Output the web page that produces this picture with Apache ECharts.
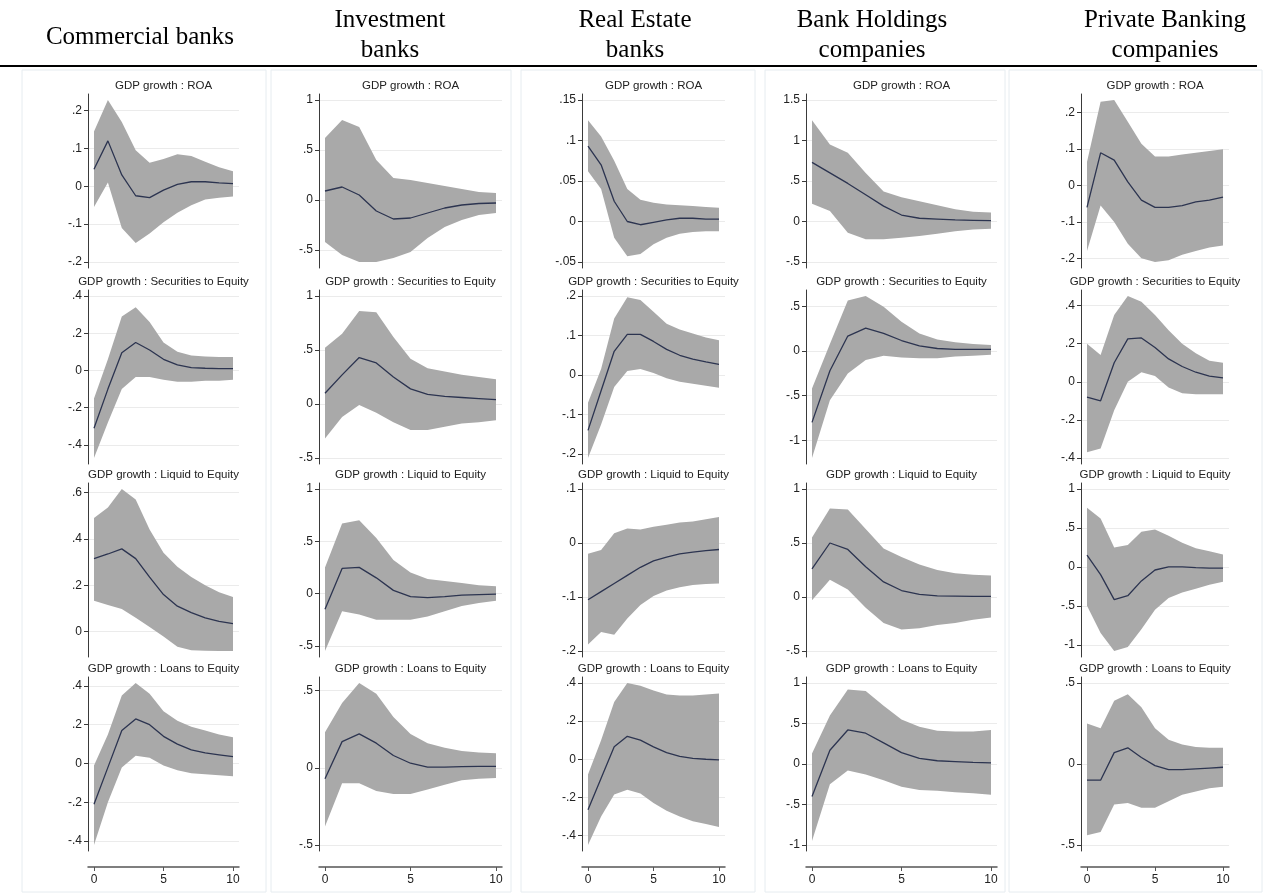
<!DOCTYPE html>
<html>
<head>
<meta charset="utf-8">
<title>GDP growth impulse responses by bank type</title>
<script src="https://cdn.jsdelivr.net/npm/echarts@6.0.0/dist/echarts.min.js"></script>
<style>
  html, body { margin: 0; padding: 0; background: #fff; }
  #main { width: 1264px; height: 894px; }
</style>
</head>
<body>
<div id="main"></div>
<script>
// horizon steps and x ticks
var steps = [0, 1, 2, 3, 4, 5, 6, 7, 8, 9, 10];
var xTicks = [0, 5, 10];

var bankTypes = ["Commercial banks", "Investment\nbanks", "Real Estate\nbanks", "Bank Holdings\ncompanies", "Private Banking\ncompanies"];
var responses = ["GDP growth : ROA", "GDP growth : Securities to Equity", "GDP growth : Liquid to Equity", "GDP growth : Loans to Equity"];

// Commercial banks
var comRoaIrf = [0.045, 0.12, 0.03, -0.025, -0.03, -0.01, 0.005, 0.012, 0.012, 0.009, 0.007];
var comRoaLo = [-0.055, 0.01, -0.11, -0.15, -0.125, -0.095, -0.07, -0.05, -0.035, -0.03, -0.027];
var comRoaHi = [0.145, 0.228, 0.17, 0.095, 0.062, 0.072, 0.085, 0.08, 0.065, 0.05, 0.04];
var comRoaTicks = [-0.2, -0.1, 0, 0.1, 0.2];

var comSecIrf = [-0.31, -0.1, 0.095, 0.15, 0.11, 0.06, 0.03, 0.015, 0.012, 0.01, 0.01];
var comSecLo = [-0.47, -0.28, -0.1, -0.035, -0.035, -0.05, -0.06, -0.06, -0.055, -0.055, -0.05];
var comSecHi = [-0.15, 0.06, 0.29, 0.34, 0.26, 0.15, 0.1, 0.08, 0.075, 0.073, 0.072];
var comSecTicks = [-0.4, -0.2, 0, 0.2, 0.4];

var comLiqIrf = [0.315, 0.335, 0.357, 0.315, 0.235, 0.16, 0.11, 0.082, 0.06, 0.045, 0.035];
var comLiqLo = [0.133, 0.115, 0.098, 0.06, 0.02, -0.02, -0.065, -0.08, -0.082, -0.083, -0.083];
var comLiqHi = [0.49, 0.535, 0.615, 0.57, 0.44, 0.34, 0.28, 0.236, 0.2, 0.17, 0.15];
var comLiqTicks = [0, 0.2, 0.4, 0.6];

var comLoanIrf = [-0.21, -0.02, 0.17, 0.23, 0.2, 0.14, 0.1, 0.07, 0.055, 0.045, 0.035];
var comLoanLo = [-0.42, -0.2, -0.02, 0.04, 0.03, -0.01, -0.035, -0.05, -0.055, -0.06, -0.065];
var comLoanHi = [-0.01, 0.15, 0.35, 0.415, 0.36, 0.27, 0.22, 0.19, 0.17, 0.15, 0.135];
var comLoanTicks = [-0.4, -0.2, 0, 0.2, 0.4];

// Investment banks
var invRoaIrf = [0.09, 0.13, 0.05, -0.11, -0.19, -0.18, -0.13, -0.08, -0.05, -0.035, -0.03];
var invRoaLo = [-0.42, -0.55, -0.62, -0.62, -0.58, -0.52, -0.38, -0.27, -0.2, -0.15, -0.13];
var invRoaHi = [0.62, 0.8, 0.73, 0.4, 0.22, 0.2, 0.17, 0.14, 0.11, 0.08, 0.07];
var invRoaTicks = [-0.5, 0, 0.5, 1];

var invSecIrf = [0.1, 0.27, 0.43, 0.38, 0.25, 0.14, 0.09, 0.07, 0.06, 0.05, 0.04];
var invSecLo = [-0.32, -0.12, -0.01, -0.08, -0.17, -0.24, -0.24, -0.21, -0.18, -0.17, -0.15];
var invSecHi = [0.52, 0.65, 0.86, 0.85, 0.62, 0.42, 0.33, 0.3, 0.27, 0.25, 0.23];
var invSecTicks = [-0.5, 0, 0.5, 1];

var invLiqIrf = [-0.15, 0.24, 0.25, 0.15, 0.03, -0.03, -0.04, -0.03, -0.015, -0.01, -0.005];
var invLiqLo = [-0.55, -0.17, -0.2, -0.25, -0.25, -0.25, -0.22, -0.17, -0.12, -0.09, -0.07];
var invLiqHi = [0.25, 0.67, 0.7, 0.53, 0.32, 0.2, 0.14, 0.12, 0.1, 0.08, 0.07];
var invLiqTicks = [-0.5, 0, 0.5, 1];

var invLoanIrf = [-0.07, 0.17, 0.22, 0.16, 0.08, 0.03, 0.005, 0.005, 0.008, 0.01, 0.01];
var invLoanLo = [-0.38, -0.1, -0.1, -0.15, -0.17, -0.17, -0.14, -0.11, -0.08, -0.07, -0.065];
var invLoanHi = [0.23, 0.42, 0.55, 0.48, 0.33, 0.22, 0.16, 0.13, 0.11, 0.1, 0.095];
var invLoanTicks = [-0.5, 0, 0.5];

// Real Estate banks
var reRoaIrf = [0.093, 0.07, 0.025, 0, -0.004, -0.001, 0.002, 0.004, 0.004, 0.003, 0.003];
var reRoaLo = [0.062, 0.04, -0.02, -0.043, -0.04, -0.028, -0.02, -0.015, -0.013, -0.012, -0.012];
var reRoaHi = [0.125, 0.105, 0.075, 0.04, 0.027, 0.023, 0.021, 0.02, 0.019, 0.018, 0.017];
var reRoaTicks = [-0.05, 0, 0.05, 0.1, 0.15];

var reSecIrf = [-0.14, -0.04, 0.06, 0.103, 0.103, 0.085, 0.065, 0.05, 0.04, 0.033, 0.027];
var reSecLo = [-0.21, -0.125, -0.03, 0.01, 0.015, 0.005, -0.008, -0.017, -0.022, -0.027, -0.032];
var reSecHi = [-0.07, 0.015, 0.143, 0.197, 0.19, 0.16, 0.13, 0.115, 0.105, 0.095, 0.088];
var reSecTicks = [-0.2, -0.1, 0, 0.1, 0.2];

var reLiqIrf = [-0.105, -0.09, -0.075, -0.06, -0.045, -0.033, -0.026, -0.02, -0.017, -0.014, -0.012];
var reLiqLo = [-0.188, -0.165, -0.17, -0.14, -0.115, -0.098, -0.088, -0.082, -0.078, -0.076, -0.075];
var reLiqHi = [-0.02, -0.013, 0.018, 0.027, 0.025, 0.03, 0.034, 0.038, 0.04, 0.044, 0.048];
var reLiqTicks = [-0.2, -0.1, 0, 0.1];

var reLoanIrf = [-0.265, -0.1, 0.065, 0.12, 0.1, 0.065, 0.035, 0.015, 0.005, 0, -0.003];
var reLoanLo = [-0.45, -0.3, -0.185, -0.16, -0.18, -0.23, -0.27, -0.3, -0.325, -0.34, -0.355];
var reLoanHi = [-0.08, 0.1, 0.3, 0.4, 0.385, 0.36, 0.34, 0.335, 0.335, 0.34, 0.345];
var reLoanTicks = [-0.4, -0.2, 0, 0.2, 0.4];

// Bank Holdings companies
var bhRoaIrf = [0.73, 0.6, 0.47, 0.33, 0.19, 0.08, 0.04, 0.03, 0.02, 0.015, 0.01];
var bhRoaLo = [0.22, 0.13, -0.14, -0.22, -0.22, -0.2, -0.18, -0.15, -0.12, -0.1, -0.09];
var bhRoaHi = [1.25, 0.95, 0.85, 0.6, 0.37, 0.3, 0.25, 0.2, 0.15, 0.12, 0.11];
var bhRoaTicks = [-0.5, 0, 0.5, 1, 1.5];

var bhSecIrf = [-0.8, -0.22, 0.17, 0.26, 0.2, 0.12, 0.06, 0.03, 0.02, 0.02, 0.02];
var bhSecLo = [-1.2, -0.55, -0.25, -0.1, -0.05, -0.07, -0.08, -0.08, -0.06, -0.05, -0.04];
var bhSecHi = [-0.42, 0.08, 0.57, 0.62, 0.5, 0.33, 0.2, 0.13, 0.1, 0.08, 0.07];
var bhSecTicks = [-1, -0.5, 0, 0.5];

var bhLiqIrf = [0.26, 0.5, 0.44, 0.28, 0.14, 0.06, 0.025, 0.01, 0.008, 0.006, 0.005];
var bhLiqLo = [-0.03, 0.16, 0.07, -0.1, -0.24, -0.3, -0.29, -0.26, -0.24, -0.21, -0.19];
var bhLiqHi = [0.55, 0.82, 0.81, 0.63, 0.45, 0.37, 0.3, 0.25, 0.22, 0.205, 0.2];
var bhLiqTicks = [-0.5, 0, 0.5, 1];

var bhLoanIrf = [-0.4, 0.17, 0.42, 0.38, 0.26, 0.14, 0.07, 0.04, 0.03, 0.02, 0.015];
var bhLoanLo = [-0.95, -0.25, -0.08, -0.13, -0.2, -0.28, -0.32, -0.33, -0.35, -0.36, -0.38];
var bhLoanHi = [0.13, 0.6, 0.92, 0.9, 0.72, 0.55, 0.46, 0.41, 0.4, 0.4, 0.42];
var bhLoanTicks = [-1, -0.5, 0, 0.5, 1];

// Private Banking companies
var pbRoaIrf = [-0.06, 0.09, 0.07, 0.01, -0.04, -0.06, -0.06, -0.055, -0.045, -0.04, -0.032];
var pbRoaLo = [-0.18, -0.055, -0.1, -0.16, -0.2, -0.21, -0.205, -0.19, -0.18, -0.17, -0.165];
var pbRoaHi = [0.065, 0.23, 0.235, 0.175, 0.115, 0.08, 0.08, 0.085, 0.09, 0.095, 0.1];
var pbRoaTicks = [-0.2, -0.1, 0, 0.1, 0.2];

var pbSecIrf = [-0.08, -0.1, 0.1, 0.225, 0.23, 0.18, 0.12, 0.08, 0.05, 0.03, 0.02];
var pbSecLo = [-0.37, -0.35, -0.15, 0, 0.05, 0.03, -0.03, -0.06, -0.065, -0.065, -0.065];
var pbSecHi = [0.2, 0.14, 0.35, 0.45, 0.42, 0.35, 0.27, 0.2, 0.15, 0.11, 0.1];
var pbSecTicks = [-0.4, -0.2, 0, 0.2, 0.4];

var pbLiqIrf = [0.15, -0.1, -0.42, -0.37, -0.18, -0.04, 0, 0, -0.01, -0.015, -0.015];
var pbLiqLo = [-0.5, -0.85, -1.08, -1.03, -0.8, -0.55, -0.4, -0.33, -0.28, -0.23, -0.19];
var pbLiqHi = [0.76, 0.62, 0.25, 0.28, 0.45, 0.48, 0.4, 0.31, 0.24, 0.2, 0.16];
var pbLiqTicks = [-1, -0.5, 0, 0.5, 1];

var pbLoanIrf = [-0.1, -0.1, 0.07, 0.1, 0.04, -0.01, -0.035, -0.035, -0.03, -0.025, -0.02];
var pbLoanLo = [-0.44, -0.42, -0.25, -0.24, -0.27, -0.27, -0.23, -0.19, -0.17, -0.15, -0.14];
var pbLoanHi = [0.25, 0.22, 0.39, 0.43, 0.35, 0.22, 0.15, 0.12, 0.105, 0.1, 0.1];
var pbLoanTicks = [-0.5, 0, 0.5];

var panels = [
  [[comRoaIrf, comRoaLo, comRoaHi, comRoaTicks], [comSecIrf, comSecLo, comSecHi, comSecTicks], [comLiqIrf, comLiqLo, comLiqHi, comLiqTicks], [comLoanIrf, comLoanLo, comLoanHi, comLoanTicks]],
  [[invRoaIrf, invRoaLo, invRoaHi, invRoaTicks], [invSecIrf, invSecLo, invSecHi, invSecTicks], [invLiqIrf, invLiqLo, invLiqHi, invLiqTicks], [invLoanIrf, invLoanLo, invLoanHi, invLoanTicks]],
  [[reRoaIrf, reRoaLo, reRoaHi, reRoaTicks], [reSecIrf, reSecLo, reSecHi, reSecTicks], [reLiqIrf, reLiqLo, reLiqHi, reLiqTicks], [reLoanIrf, reLoanLo, reLoanHi, reLoanTicks]],
  [[bhRoaIrf, bhRoaLo, bhRoaHi, bhRoaTicks], [bhSecIrf, bhSecLo, bhSecHi, bhSecTicks], [bhLiqIrf, bhLiqLo, bhLiqHi, bhLiqTicks], [bhLoanIrf, bhLoanLo, bhLoanHi, bhLoanTicks]],
  [[pbRoaIrf, pbRoaLo, pbRoaHi, pbRoaTicks], [pbSecIrf, pbSecLo, pbSecHi, pbSecTicks], [pbLiqIrf, pbLiqLo, pbLiqHi, pbLiqTicks], [pbLoanIrf, pbLoanLo, pbLoanHi, pbLoanTicks]]
];

// layout (pixels)
var colAxisX = [88, 319, 582, 806, 1081];
var colRight = [239, 502, 725, 997, 1229];
var headerX = [140, 390, 635, 872, 1165];
var boxX = [[22, 266], [271, 511], [521, 755], [765, 1005], [1009, 1262]];
var rowTop = [100, 296, 489, 683];
var rowH = 162;
var pad = 6;

function stataLabel(v) {
  var s = String(+Number(v).toFixed(4));
  return s.replace(/^(-?)0\./, "$1.");
}
function pairs(ys) {
  return steps.map(function (x, i) { return [x, ys[i]]; });
}
// confidence band as one polygon: upper edge left to right, lower edge back
function bandRenderer(lo, hi) {
  return function (params, api) {
    if (params.dataIndex !== 0) return;
    var pts = [];
    for (var i = 0; i < steps.length; i++) pts.push(api.coord([steps[i], hi[i]]));
    for (var j = steps.length - 1; j >= 0; j--) pts.push(api.coord([steps[j], lo[j]]));
    return { type: "polygon", shape: { points: pts }, style: { fill: "#a9a9a9" } };
  };
}

var grids = [], xAxes = [], yAxes = [], series = [], graphics = [];

boxX.forEach(function (b) {
  graphics.push({ type: "rect", z: -10, shape: { x: b[0], y: 70, width: b[1] - b[0], height: 822 },
    style: { fill: "none", stroke: "#e6ecf0", lineWidth: 1 } });
});
graphics.push({ type: "line", shape: { x1: 0, y1: 66, x2: 1257, y2: 66 }, style: { stroke: "#000", lineWidth: 2 } });
bankTypes.forEach(function (t, c) {
  graphics.push({ type: "text", style: { text: t, x: headerX[c], y: c === 0 ? 37 : 35, align: "center", verticalAlign: "middle",
    font: '25px "Liberation Serif"', lineHeight: 30, fill: "#000" } });
});

var gi = 0;
for (var c = 0; c < 5; c++) {
  for (var r = 0; r < 4; r++) {
    var p = panels[c][r];
    var irf = p[0], lo = p[1], hi = p[2], ticks = p[3];
    var yMin = Math.min.apply(null, lo.concat(ticks));
    var yMax = Math.max.apply(null, hi.concat(ticks));
    var yPad = (yMax - yMin) * pad / rowH;
    var xPad = 10 * pad / (colRight[c] - colAxisX[c] - 2 * pad);
    var bottomRow = r === 3;

    grids.push({ left: colAxisX[c], top: rowTop[r] - pad, width: colRight[c] - colAxisX[c], height: rowH + 2 * pad });
    xAxes.push({
      gridIndex: gi, type: "value", min: -xPad, max: 10 + xPad, show: bottomRow, offset: 16,
      axisLine: { show: true, onZero: false, lineStyle: { color: "#555", width: 1.5 } },
      axisTick: { show: true, length: 4, customValues: xTicks, lineStyle: { color: "#555" } },
      axisLabel: { customValues: xTicks, fontSize: 12, color: "#222", margin: 7, fontFamily: "Liberation Sans" },
      splitLine: { show: false }
    });
    yAxes.push({
      gridIndex: gi, type: "value", min: yMin - yPad, max: yMax + yPad,
      axisLine: { show: true, onZero: false, lineStyle: { color: "#3a3a3a", width: 1 } },
      axisTick: { show: true, length: 4, customValues: ticks, lineStyle: { color: "#3a3a3a" } },
      axisLabel: { customValues: ticks, formatter: stataLabel, fontSize: 12, color: "#222", margin: 6, fontFamily: "Liberation Sans" },
      splitLine: { show: true, lineStyle: { color: "#ebebeb", width: 1 } }
    });
    series.push({
      type: "custom", xAxisIndex: gi, yAxisIndex: gi, silent: true, z: 2,
      data: steps.map(function (x, i) { return [x, lo[i], hi[i]]; }),
      encode: { x: 0, y: [1, 2] },
      renderItem: bandRenderer(lo, hi)
    });
    series.push({
      type: "line", xAxisIndex: gi, yAxisIndex: gi, data: pairs(irf), symbol: "none",
      lineStyle: { color: "#2c3450", width: 1.3 }, silent: true, z: 3
    });
    graphics.push({ type: "text", style: { text: responses[r], x: (colAxisX[c] + colRight[c]) / 2, y: rowTop[r] - 14,
      align: "center", verticalAlign: "middle", font: '11.5px "Liberation Sans"', fill: "#222" } });
    gi++;
  }
}

var myChart = echarts.init(document.getElementById("main"));
myChart.setOption({
  animation: false,
  backgroundColor: "#fff",
  grid: grids,
  xAxis: xAxes,
  yAxis: yAxes,
  series: series,
  graphic: graphics
});
</script>
</body>
</html>
